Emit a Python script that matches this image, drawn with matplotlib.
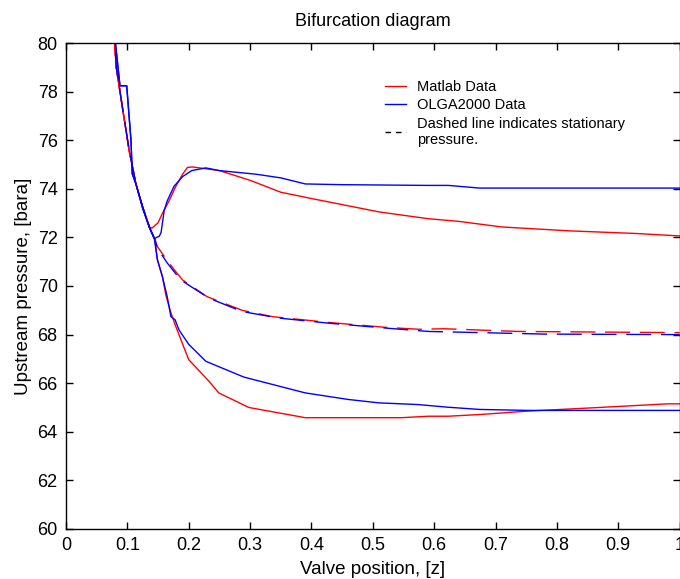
import matplotlib
matplotlib.use('Agg')
import matplotlib.pyplot as plt
from matplotlib.lines import Line2D

plt.rcParams['font.family'] = ['Liberation Sans', 'DejaVu Sans']

# Matlab data: upper / lower limit cycle pressures and stationary pressure
matlab_upper_z = [0.078, 0.082, 0.092, 0.103, 0.114, 0.125, 0.136, 0.140, 0.150, 0.157, 0.168, 0.179,
                  0.190, 0.198, 0.206, 0.250, 0.300, 0.350, 0.400, 0.420, 0.510, 0.590, 0.640, 0.710,
                  0.820, 0.930, 1.000]
matlab_upper_p = [80.5, 79.0, 77.35, 75.57, 74.2, 73.25, 72.43, 72.38, 72.6, 72.98, 73.5, 74.1,
                  74.6, 74.88, 74.9, 74.75, 74.35, 73.86, 73.6, 73.5, 73.05, 72.77, 72.66, 72.43,
                  72.27, 72.16, 72.06]
matlab_lower_z = [0.078, 0.082, 0.092, 0.103, 0.114, 0.125, 0.136, 0.145, 0.149, 0.157, 0.163, 0.171,
                  0.179, 0.200, 0.233, 0.249, 0.298, 0.390, 0.547, 0.590, 0.623, 0.674, 0.752, 0.861,
                  0.980, 1.000]
matlab_lower_p = [80.5, 79.0, 77.35, 75.57, 74.2, 73.25, 72.43, 71.9, 71.1, 70.4, 69.6, 68.9,
                  68.33, 66.97, 66.08, 65.6, 65.0, 64.58, 64.58, 64.64, 64.64, 64.71, 64.85, 64.99,
                  65.15, 65.15]
matlab_stat_z = [0.078, 0.082, 0.092, 0.103, 0.114, 0.125, 0.136, 0.145, 0.149, 0.165, 0.179, 0.190,
                 0.230, 0.287, 0.336, 0.428, 0.520, 0.574, 0.617, 0.736, 1.000]
matlab_stat_p = [80.5, 79.0, 77.35, 75.57, 74.2, 73.25, 72.43, 71.9, 71.62, 71.05, 70.59, 70.25,
                 69.56, 69.0, 68.74, 68.5, 68.3, 68.22, 68.24, 68.13, 68.08]

# OLGA2000 data
olga_upper_z = [0.0785, 0.088, 0.099, 0.103, 0.106, 0.108, 0.114, 0.125, 0.136, 0.144, 0.152, 0.155,
                0.160, 0.165, 0.176, 0.190, 0.205, 0.228, 0.250, 0.310, 0.350, 0.390, 0.450, 0.590,
                0.623, 0.674, 1.000]
olga_upper_p = [80.5, 78.24, 78.24, 76.94, 75.98, 74.62, 74.2, 73.2, 72.4, 71.95, 72.05, 72.2,
                73.1, 73.5, 74.1, 74.5, 74.75, 74.86, 74.75, 74.6, 74.45, 74.2, 74.17, 74.14,
                74.14, 74.03, 74.03]
olga_lower_z = [0.0785, 0.088, 0.099, 0.103, 0.106, 0.108, 0.114, 0.125, 0.136, 0.144, 0.149, 0.157,
                0.165, 0.171, 0.178, 0.184, 0.200, 0.228, 0.290, 0.390, 0.460, 0.510, 0.574, 0.623,
                0.674, 0.752, 1.000]
olga_lower_p = [80.5, 78.24, 78.24, 76.94, 75.98, 74.62, 74.2, 73.2, 72.4, 71.95, 71.07, 70.4,
                69.56, 68.74, 68.6, 68.2, 67.6, 66.9, 66.25, 65.6, 65.33, 65.19, 65.12, 65.01,
                64.92, 64.88, 64.88]
olga_stat_z = [0.0785, 0.082, 0.092, 0.103, 0.114, 0.125, 0.136, 0.145, 0.149, 0.165, 0.179, 0.190,
               0.233, 0.287, 0.347, 0.428, 0.520, 0.590, 0.780, 1.000]
olga_stat_p = [80.5, 79.0, 77.35, 75.6, 74.2, 73.25, 72.43, 71.9, 71.55, 70.95, 70.5, 70.2,
               69.5, 68.95, 68.68, 68.47, 68.27, 68.13, 68.02, 68.0]

legend_labels = ['Matlab Data', 'OLGA2000 Data', 'Dashed line indicates stationary\npressure.']
x_ticks = [0, 0.1, 0.2, 0.3, 0.4, 0.5, 0.6, 0.7, 0.8, 0.9, 1]
x_tick_labels = ['0', '0.1', '0.2', '0.3', '0.4', '0.5', '0.6', '0.7', '0.8', '0.9', '1']
y_ticks = list(range(60, 81, 2))

fig = plt.figure(figsize=(6.8, 5.79), dpi=100)
ax = fig.add_axes([0.097, 0.0864, 0.9025, 0.8393])

dash = (0, (18, 7))
ax.plot(matlab_upper_z, matlab_upper_p, color='#ff0000', lw=1.0)
ax.plot(matlab_lower_z, matlab_lower_p, color='#ff0000', lw=1.0)
ax.plot(matlab_stat_z, matlab_stat_p, color='#ff0000', lw=1.0, linestyle=dash)
ax.plot(olga_upper_z, olga_upper_p, color='#0000ff', lw=1.0)
ax.plot(olga_lower_z, olga_lower_p, color='#0000ff', lw=1.0)
ax.plot(olga_stat_z, olga_stat_p, color='#0000ff', lw=1.0, linestyle=(9, (18, 7)))

ax.set_xlim(0, 1)
ax.set_ylim(60, 80)
ax.set_xticks(x_ticks)
ax.set_xticklabels(x_tick_labels)
ax.set_yticks(y_ticks)
ax.tick_params(direction='in', length=5, width=1, top=True, right=True, labelsize=13, pad=6)
for s in ax.spines.values():
    s.set_linewidth(1.0)

ax.set_title('Bifurcation diagram', fontsize=13, pad=12)
ax.set_xlabel('Valve position, [z]', fontsize=13.5, labelpad=5)
ax.set_ylabel('Upstream pressure, [bara]', fontsize=13.5, labelpad=4)

handles = [Line2D([], [], color='#ff0000', lw=1.0),
           Line2D([], [], color='#0000ff', lw=1.0),
           Line2D([], [], color='black', lw=1.0, dashes=(4, 3.5))]
ax.legend(handles, legend_labels, loc='upper left', bbox_to_anchor=(0.52, 0.924),
          frameon=False, fontsize=10.5, handlelength=1.45, handletextpad=0.75,
          labelspacing=0.3, borderpad=0, borderaxespad=0)

fig.savefig('out.png', dpi=100)
